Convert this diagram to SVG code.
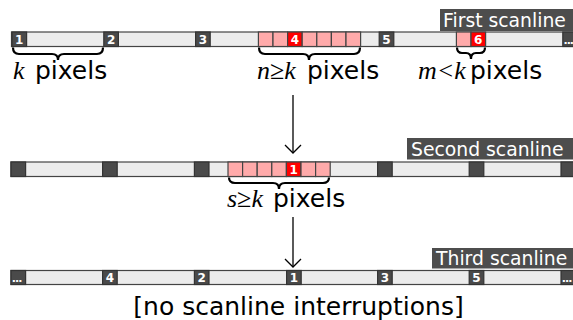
<svg xmlns="http://www.w3.org/2000/svg" width="573" height="320" viewBox="0 0 573 320">
<style>
.bar{fill:#ececec;stroke:#444;stroke-width:1.2}
.dk{fill:#4a4a4a;stroke:#333;stroke-width:1.2}
.pk{fill:#ffaaaa;stroke:#444;stroke-width:1.2}
.rd{fill:#ff0000;stroke:#444;stroke-width:1.2}
.num{fill:#fff;font-family:"DejaVu Sans",sans-serif;font-weight:bold;font-size:12px;text-anchor:middle}
.dots{fill:#fff;font-family:"DejaVu Sans",sans-serif;font-weight:bold;font-size:11px;letter-spacing:-1px}
.lblbox{fill:#4d4d4d}
.lbl{fill:#fff;font-family:"DejaVu Sans",sans-serif;font-size:18.8px}
.brace{fill:none;stroke:#000;stroke-width:2.2}
.txt{font-family:"DejaVu Sans",sans-serif;font-size:25px;fill:#000}
.it{font-family:"Liberation Serif",serif;font-style:italic;font-size:26px}
.arr{fill:none;stroke:#000;stroke-width:1.3}
</style>
<defs>
<marker id="ah" markerWidth="20" markerHeight="20" refX="10" refY="10" orient="auto" markerUnits="userSpaceOnUse">
<path d="M2,2 L10,10 L2,18" fill="none" stroke="#000" stroke-width="1.3"/>
</marker>
</defs>

<g id="scanline1">
<rect class="bar" x="11.5" y="32" width="570" height="14.5"/>
<rect class="lblbox" x="440" y="9" width="134" height="22"/>
<text class="lbl" x="443" y="26.5">First scanline</text>
<rect class="dk" x="12" y="32" width="14.6" height="14.5"/><text class="num" x="19.3" y="44">1</text>
<rect class="dk" x="103.8" y="32" width="14.6" height="14.5"/><text class="num" x="111.1" y="44">2</text>
<rect class="dk" x="195.6" y="32" width="14.6" height="14.5"/><text class="num" x="202.9" y="44">3</text>
<rect class="pk" x="258.4" y="32" width="14.6" height="14.5"/>
<rect class="pk" x="273" y="32" width="14.6" height="14.5"/>
<rect class="rd" x="287.6" y="32" width="14.6" height="14.5"/><text class="num" x="294.9" y="44">4</text>
<rect class="pk" x="302.2" y="32" width="14.6" height="14.5"/>
<rect class="pk" x="316.8" y="32" width="14.6" height="14.5"/>
<rect class="pk" x="331.4" y="32" width="14.6" height="14.5"/>
<rect class="pk" x="346" y="32" width="14.6" height="14.5"/>
<rect class="dk" x="379.2" y="32" width="14.6" height="14.5"/><text class="num" x="386.5" y="44">5</text>
<rect class="pk" x="456.4" y="32" width="14.6" height="14.5"/>
<rect class="rd" x="471" y="32" width="14.6" height="14.5"/><text class="num" x="478.3" y="44">6</text>
<rect class="dk" x="562.8" y="32" width="14.6" height="14.5"/><text class="dots" x="563.5" y="44">...</text>
</g>

<g id="label-k">
<path class="brace" d="M13,47.5 Q13,54 19,54 L52,54 Q58,54 58,60 Q58,54 64,54 L97,54 Q103,54 103,47.5"/>
<text class="txt" x="13" y="79"><tspan class="it">k</tspan><tspan x="35">pixels</tspan></text>
</g>

<g id="label-n">
<path class="brace" d="M259,47.5 Q259,54 265,54 L303,54 Q309,54 309,60 Q309,54 315,54 L354,54 Q360,54 360,47.5"/>
<text class="txt" x="257" y="79"><tspan class="it">n≥k</tspan><tspan x="307">pixels</tspan></text>
</g>

<g id="label-m">
<path class="brace" d="M457,47.5 Q457,53 462,53 L466,53 Q471,53 471,59 Q471,53 476,53 L480,53 Q485,53 485,47.5"/>
<text class="txt" x="418" y="79"><tspan class="it">m&lt;k</tspan><tspan x="470">pixels</tspan></text>
</g>

<g id="scanline2">
<rect class="bar" x="11" y="162" width="570" height="14.5"/>
<rect class="lblbox" x="407" y="138" width="167" height="21.5"/>
<text class="lbl" x="411" y="155.5">Second scanline</text>
<rect class="dk" x="11" y="162" width="14.6" height="14.5"/>
<rect class="dk" x="102.6" y="162" width="14.6" height="14.5"/>
<rect class="dk" x="194.4" y="162" width="14.6" height="14.5"/>
<rect class="pk" x="228" y="162" width="14.6" height="14.5"/>
<rect class="pk" x="242.6" y="162" width="14.6" height="14.5"/>
<rect class="pk" x="257.2" y="162" width="14.6" height="14.5"/>
<rect class="pk" x="271.8" y="162" width="14.6" height="14.5"/>
<rect class="rd" x="286.4" y="162" width="14.6" height="14.5"/><text class="num" x="293.7" y="174">1</text>
<rect class="pk" x="301" y="162" width="14.6" height="14.5"/>
<rect class="pk" x="315.6" y="162" width="14.6" height="14.5"/>
<rect class="dk" x="377.6" y="162" width="14.6" height="14.5"/>
<rect class="dk" x="469.2" y="162" width="14.6" height="14.5"/>
<rect class="dk" x="561" y="162" width="14.6" height="14.5"/>
</g>

<g id="label-s">
<path class="brace" d="M229,177.5 Q229,183 235,183 L273,183 Q279,183 279,189 Q279,183 285,183 L323,183 Q329,183 329,177.5"/>
<text class="txt" x="227" y="207"><tspan class="it">s≥k</tspan><tspan x="273">pixels</tspan></text>
</g>

<g id="scanline3">
<rect class="bar" x="11" y="270.5" width="570" height="14"/>
<rect class="lblbox" x="432" y="248" width="142" height="20.5"/>
<text class="lbl" x="436" y="265">Third scanline</text>
<rect class="dk" x="11" y="270.5" width="14.6" height="14"/><text class="dots" x="11.8" y="282">...</text>
<rect class="dk" x="102.6" y="270.5" width="14.6" height="14"/><text class="num" x="109.9" y="282">4</text>
<rect class="dk" x="194.4" y="270.5" width="14.6" height="14"/><text class="num" x="201.7" y="282">2</text>
<rect class="dk" x="286.6" y="270.5" width="14.6" height="14"/><text class="num" x="293.9" y="282">1</text>
<rect class="dk" x="377.6" y="270.5" width="14.6" height="14"/><text class="num" x="384.9" y="282">3</text>
<rect class="dk" x="469.2" y="270.5" width="14.6" height="14"/><text class="num" x="476.5" y="282">5</text>
<rect class="dk" x="561" y="270.5" width="14.6" height="14"/><text class="dots" x="561.8" y="282">...</text>
<text class="txt" x="298.5" y="315" font-size="26" text-anchor="middle">[no scanline interruptions]</text>
</g>

<g id="connectors">
<line class="arr" x1="293" y1="95" x2="293" y2="153" marker-end="url(#ah)"/>
<line class="arr" x1="293" y1="217" x2="293" y2="267" marker-end="url(#ah)"/>
</g>
</svg>
